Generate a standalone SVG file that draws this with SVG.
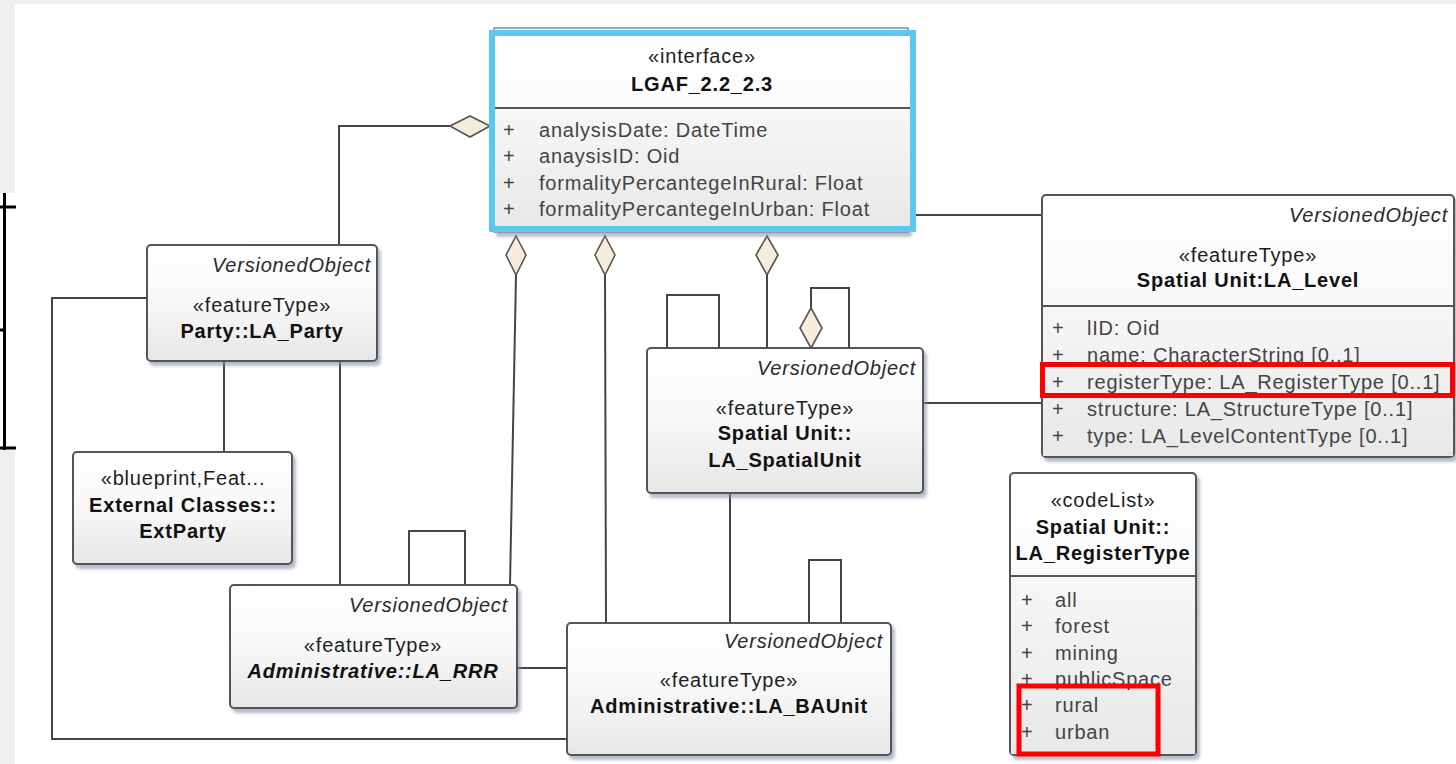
<svg xmlns="http://www.w3.org/2000/svg" width="1456" height="764" viewBox="0 0 1456 764">
<style>
text{font-family:"Liberation Sans",Arial,sans-serif;font-size:20px;letter-spacing:0.8px;fill:#1e1e1e}
.c{text-anchor:middle}
.e{text-anchor:end}
.it{font-style:italic;fill:#2a2a2a}
.b{font-weight:bold;fill:#111}
.bi{font-weight:bold;font-style:italic;fill:#111}
.at{fill:#444}
.box{fill:url(#gb);stroke:#555;stroke-width:2}
.hdr{fill:url(#gh);stroke:none}
.att{fill:url(#ga);stroke:none}
.div{stroke:#555;stroke-width:2}
.ln{fill:none;stroke:#444;stroke-width:2}
.dia{fill:#f7ecdc;stroke:#555;stroke-width:1.6}
.red{fill:none;stroke:#ff0000;stroke-width:5}
</style>
<defs>
<linearGradient id="gb" x1="0" y1="0" x2="0" y2="1"><stop offset="0" stop-color="#ffffff"/><stop offset="0.5" stop-color="#f8f8f8"/><stop offset="1" stop-color="#e6e6e6"/></linearGradient>
<linearGradient id="gh" x1="0" y1="0" x2="0" y2="1"><stop offset="0" stop-color="#ffffff"/><stop offset="1" stop-color="#fbfbfb"/></linearGradient>
<linearGradient id="ga" x1="0" y1="0" x2="0" y2="1"><stop offset="0" stop-color="#f7f7f7"/><stop offset="1" stop-color="#e8e8e8"/></linearGradient>
<filter id="sh" x="-5%" y="-5%" width="115%" height="120%"><feDropShadow dx="3" dy="4" stdDeviation="1.5" flood-color="#7a88a0" flood-opacity="0.55"/></filter>
</defs>

<g id="background">
<rect x="0" y="0" width="1456" height="764" fill="#efefef"/>
<rect x="15" y="4" width="1441" height="760" fill="#ffffff"/>
<rect x="0" y="193" width="15" height="257" fill="#ffffff"/>
<g stroke="#000" stroke-width="3" fill="none">
<line x1="4.5" y1="193" x2="4.5" y2="450"/>
<line x1="0" y1="207" x2="16" y2="207"/>
<line x1="0" y1="330" x2="5" y2="330"/>
<line x1="0" y1="448" x2="16" y2="448"/>
</g>
</g>

<g id="connectors">
<polyline class="ln" points="339,245 339,126 450,126"/>
<polygon class="dia" points="450,126 470,116 490,126 470,137"/>
<polyline class="ln" points="147,298 52,298 52,739 567,739"/>
<line class="ln" x1="224" y1="361" x2="224" y2="452"/>
<line class="ln" x1="340" y1="361" x2="340" y2="585"/>
<polyline class="ln" points="409,585 409,531 465,531 465,585"/>
<line class="ln" x1="516" y1="275" x2="510" y2="585"/>
<polygon class="dia" points="516,236 526,255 516,275 506,255"/>
<line class="ln" x1="517" y1="668" x2="567" y2="668"/>
<line class="ln" x1="605" y1="275" x2="606" y2="623"/>
<polygon class="dia" points="605,236 615,255 605,275 595,255"/>
<line class="ln" x1="767" y1="275" x2="767" y2="348"/>
<polygon class="dia" points="767,236 778,255 767,275 756,255"/>
<polyline class="ln" points="667,348 667,295 719,295 719,348"/>
<polyline class="ln" points="811,308 811,288 849,288 849,348"/>
<polygon class="dia" points="811,308 822,328 811,348 800,328"/>
<line class="ln" x1="923" y1="403" x2="1042" y2="403"/>
<line class="ln" x1="730" y1="493" x2="730" y2="623"/>
<polyline class="ln" points="809,623 809,560 841,560 841,623"/>
<line class="ln" x1="916" y1="215" x2="1042" y2="215"/>
</g>

<g id="LGAF">
<rect x="494" y="28" width="414" height="204" fill="#ffffff" stroke="#8a8a8a" stroke-width="1.5" filter="url(#sh)"/>
<rect x="492" y="33" width="421" height="75" class="hdr"/>
<rect x="492" y="108" width="421" height="121" class="att"/>
<line class="div" x1="492" y1="108" x2="913" y2="108"/>
<rect x="492" y="33" width="421" height="196" fill="none" stroke="#5bc8f0" stroke-width="6"/>
<text class="c" x="702" y="63">«interface»</text>
<text class="c b" x="702" y="91">LGAF_2.2_2.3</text>
<text class="at" x="503" y="137">+</text><text class="at" x="539" y="137">analysisDate: DateTime</text>
<text class="at" x="503" y="163">+</text><text class="at" x="539" y="163">anaysisID: Oid</text>
<text class="at" x="503" y="190">+</text><text class="at" x="539" y="190">formalityPercantegeInRural: Float</text>
<text class="at" x="503" y="216">+</text><text class="at" x="539" y="216">formalityPercantegeInUrban: Float</text>
</g>

<g id="LA_Party">
<rect class="box" x="147" y="245" width="230" height="116" rx="4" filter="url(#sh)"/>
<text class="e it" x="371" y="272">VersionedObject</text>
<text class="c" x="262" y="312">«featureType»</text>
<text class="c b" x="262" y="338">Party::LA_Party</text>
</g>

<g id="ExtParty">
<rect class="box" x="73" y="452" width="219" height="112" rx="4" filter="url(#sh)"/>
<text class="c" x="183" y="485">«blueprint,Feat...</text>
<text class="c b" x="183" y="512">External Classes::</text>
<text class="c b" x="183" y="538">ExtParty</text>
</g>

<g id="LA_RRR">
<rect class="box" x="230" y="585" width="287" height="123" rx="4" filter="url(#sh)"/>
<text class="e it" x="508" y="612">VersionedObject</text>
<text class="c" x="373" y="652">«featureType»</text>
<text class="c bi" x="373" y="678">Administrative::LA_RRR</text>
</g>

<g id="LA_BAUnit">
<rect class="box" x="567" y="623" width="324" height="132" rx="4" filter="url(#sh)"/>
<text class="e it" x="883" y="648">VersionedObject</text>
<text class="c" x="729" y="687">«featureType»</text>
<text class="c b" x="729" y="713">Administrative::LA_BAUnit</text>
</g>

<g id="LA_SpatialUnit">
<rect class="box" x="647" y="348" width="276" height="145" rx="4" filter="url(#sh)"/>
<text class="e it" x="916" y="375">VersionedObject</text>
<text class="c" x="785" y="415">«featureType»</text>
<text class="c b" x="785" y="440">Spatial Unit::</text>
<text class="c b" x="785" y="467">LA_SpatialUnit</text>
</g>

<g id="LA_Level">
<rect class="box" x="1042" y="195" width="412" height="262" rx="4" filter="url(#sh)"/>
<rect class="att" x="1043" y="307" width="410" height="149"/>
<line class="div" x1="1042" y1="306" x2="1454" y2="306"/>
<text class="e it" x="1448" y="222">VersionedObject</text>
<text class="c" x="1248" y="262">«featureType»</text>
<text class="c b" x="1248" y="287">Spatial Unit:LA_Level</text>
<text class="at" x="1052" y="335">+</text><text class="at" x="1087" y="335">lID: Oid</text>
<text class="at" x="1052" y="362">+</text><text class="at" x="1087" y="362">name: CharacterString [0..1]</text>
<text class="at" x="1052" y="389">+</text><text class="at" x="1087" y="389">registerType: LA_RegisterType [0..1]</text>
<text class="at" x="1052" y="416">+</text><text class="at" x="1087" y="416">structure: LA_StructureType [0..1]</text>
<text class="at" x="1052" y="443">+</text><text class="at" x="1087" y="443">type: LA_LevelContentType [0..1]</text>
<rect class="red" x="1042.5" y="364.5" width="410" height="31"/>
</g>

<g id="LA_RegisterType">
<rect class="box" x="1010" y="473" width="186" height="282" rx="4" filter="url(#sh)"/>
<rect class="att" x="1011" y="577" width="184" height="177"/>
<line class="div" x1="1010" y1="576" x2="1196" y2="576"/>
<text class="c" x="1103" y="507">«codeList»</text>
<text class="c b" x="1103" y="534">Spatial Unit::</text>
<text class="c b" x="1103" y="560">LA_RegisterType</text>
<text class="at" x="1021" y="607">+</text><text class="at" x="1055" y="607">all</text>
<text class="at" x="1021" y="633">+</text><text class="at" x="1055" y="633">forest</text>
<text class="at" x="1021" y="660">+</text><text class="at" x="1055" y="660">mining</text>
<text class="at" x="1021" y="686">+</text><text class="at" x="1055" y="686">publicSpace</text>
<text class="at" x="1021" y="712">+</text><text class="at" x="1055" y="712">rural</text>
<text class="at" x="1021" y="739">+</text><text class="at" x="1055" y="739">urban</text>
<rect class="red" x="1019" y="686" width="139" height="68"/>
</g>
</svg>
